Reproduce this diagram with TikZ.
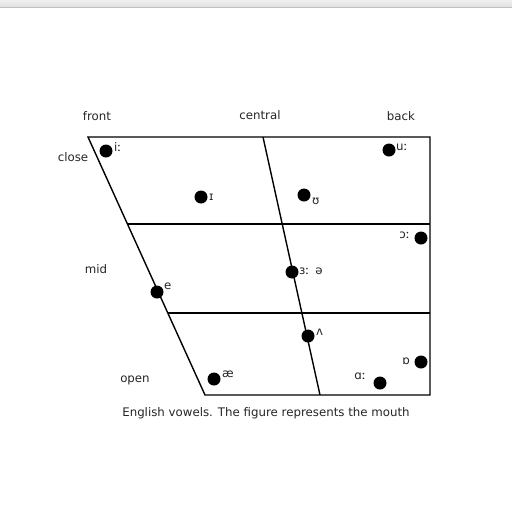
\documentclass[tikz,border=0pt]{standalone}
\usepackage{fontspec}
\setmainfont{DejaVu Sans}
\begin{document}
\begin{tikzpicture}[x=1pt,y=-1pt,
  lab/.style={font=\fontsize{11.8}{14}\selectfont, text=black!85, inner sep=0pt},
  dot/.style={circle, fill=black, minimum size=13pt, inner sep=0pt},
  edge/.style={line width=1.4pt, black}]
\useasboundingbox (0,0) rectangle (512,512);
\fill[white] (0,0) rectangle (512,512);
\fill[top color=black!6, bottom color=black!12] (0,0) rectangle (512,7);
\draw[black!25, line width=0.8pt] (0,7) -- (512,7);
% corners
\coordinate (tl) at (88,137);
\coordinate (tr) at (430,137);
\coordinate (br) at (430,395);
\coordinate (bl) at (205,395);
\coordinate (ml) at (127.5,224);
\coordinate (mr) at (430,224);
\coordinate (ol) at (167.8,313);
\coordinate (or) at (430,313);
\coordinate (ct) at (263,137);
\coordinate (cb) at (320,395);
\draw[edge, line join=miter] (tl) -- (tr) -- (br) -- (bl) -- cycle;
\draw[edge] (ml) -- (mr);
\draw[edge] (ol) -- (or);
\draw[edge] (ct) -- (cb);
% axis labels
\node[lab] (front) at (97,116) {front};
\node[lab] (central) at (260,115) {central};
\node[lab] (back) at (401,116) {back};
\node[lab] (close) at (73,157) {close};
\node[lab] (mid) at (96,269) {mid};
\node[lab] (open) at (135,380) {open};
% vowels
\node[dot] (di) at (106,151) {};
\node[lab, anchor=west] (li) at (114,147) {iː};
\node[dot] (dI) at (201,197) {};
\node[lab, anchor=west] (lI) at (209,197) {ɪ};
\node[dot] (dU) at (304,195) {};
\node[lab, anchor=west] (lU) at (312,201) {ʊ};
\node[dot] (du) at (389,150) {};
\node[lab, anchor=west] (lu) at (396,147) {uː};
\node[dot] (do) at (421,238) {};
\node[lab, anchor=east] (lo) at (410,235) {ɔː};
\node[dot] (de) at (157,292) {};
\node[lab, anchor=west] (le) at (164,286) {e};
\node[dot] (d3) at (292,272) {};
\node[lab, anchor=west] (l3) at (299,271) {ɜː\hspace{6pt}ə};
\node[dot] (dv) at (308,336) {};
\node[lab, anchor=west] (lv) at (316,332) {ʌ};
\node[dot] (dae) at (214,379) {};
\node[lab, anchor=west] (lae) at (222,374) {æ};
\node[dot] (da) at (380,383) {};
\node[lab, anchor=east] (la) at (366,376) {ɑː};
\node[dot] (dO) at (421,362) {};
\node[lab, anchor=east] (lO) at (410,361) {ɒ};
% caption
\node[lab] (cap) at (266,413) {English vowels. The figure represents the mouth};
\end{tikzpicture}
\end{document}
